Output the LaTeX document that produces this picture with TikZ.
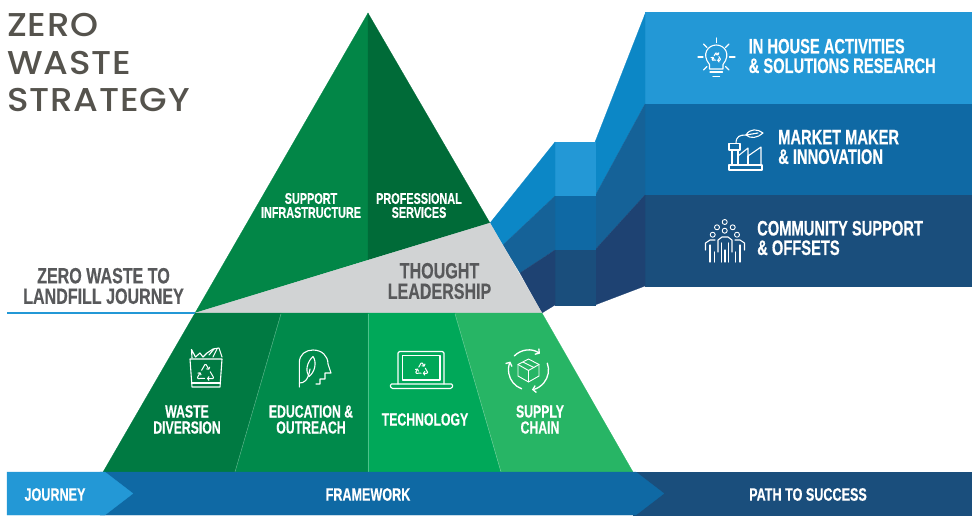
\documentclass[tikz,border=0pt]{standalone}
\usepackage{fontspec}
\usetikzlibrary{arrows.meta}
\setmainfont{Liberation Sans}
\newfontfamily\labelfont[FakeStretch=0.70,FakeBold=0.4]{Liberation Sans Bold}
\newfontfamily\greyfont[FakeStretch=0.73,FakeBold=0.4]{Liberation Sans Bold}
\newfontfamily\titlefont[LetterSpace=2.5,FakeStretch=1.08]{Poppins Medium}
\definecolor{bluelight}{HTML}{2398D6}
\definecolor{bluemid}{HTML}{0F69A4}
\definecolor{bluedark}{HTML}{1A4E7C}
\definecolor{facetlight}{HTML}{0C87C6}
\definecolor{facetmid}{HTML}{156298}
\definecolor{facetdark}{HTML}{1E4272}
\definecolor{gtop}{HTML}{028647}
\definecolor{gtopdark}{HTML}{006B38}
\definecolor{gone}{HTML}{007A42}
\definecolor{gtwo}{HTML}{008A4B}
\definecolor{gthree}{HTML}{00A859}
\definecolor{gfour}{HTML}{27B565}
\definecolor{greyband}{HTML}{D1D3D4}
\definecolor{greytext}{HTML}{58595B}
\definecolor{titlegrey}{HTML}{55534D}
\tikzset{
 face/.style={fill=#1,draw=#1,line width=.2pt},
 divider/.style={draw=white,draw opacity=.3,line width=.5pt},
 icon/.style={draw=white,line width=1.1pt,line cap=round,line join=round},
 iconarrow/.style={icon,line width=1.3pt,-{Straight Barb[length=3pt,width=7pt]}},
 recycline/.style={icon,line width=1pt,rounded corners=1.2pt,-{Straight Barb[length=1.5pt,width=4pt]}},
 lab/.style={inner sep=0pt,align=center,text=white},
 labS/.style={lab,font=\labelfont\fontsize{15.5}{14}\selectfont},
 labM/.style={lab,font=\labelfont\fontsize{17.5}{16}\selectfont},
 labBar/.style={lab,font=\labelfont\fontsize{18}{16}\selectfont},
 labB/.style={lab,font=\labelfont\fontsize{21}{19.5}\selectfont},
 labL/.style={labB,align=left,anchor=west},
 labG/.style={lab,text=greytext,font=\greyfont\fontsize{22}{20.5}\selectfont},
 titleline/.style={inner sep=0pt,anchor=base west,text=titlegrey,font=\titlefont\fontsize{33}{33}\selectfont},
}
\newcommand{\recyc}[3]{%
 \foreach \ang in {0,120,240}{%
  \draw[recycline,shift={(#1,#2)},rotate=\ang]
   (-.39*#3,-.32*#3) -- (0,-#3) -- (.36*#3,-.38*#3);
 }}
\begin{document}
\begin{tikzpicture}[x=1pt,y=-1pt]
\useasboundingbox (0,0) rectangle (972,515);
% right panels
\fill[face=bluelight] (645,12) rectangle (972,104);
\fill[face=bluemid] (645,104) rectangle (972,195);
\fill[face=bluedark] (645,195) rectangle (972,286);
% facets
\fill[face=facetlight] (595,142)--(645,14)--(645,104)--(595,196)--cycle;
\fill[face=facetmid] (595,196)--(645,104)--(645,195)--(595,250)--cycle;
\fill[face=facetdark] (595,250)--(645,195)--(645,286)--(595,305)--cycle;
\fill[face=bluelight] (555,142) rectangle (595,196);
\fill[face=bluemid] (555,196) rectangle (595,250);
\fill[face=bluedark] (555,250) rectangle (595,305);
\fill[face=facetlight] (490,223)--(555,142)--(555,196)--(503,245)--cycle;
\fill[face=facetmid] (503,245)--(555,196)--(555,250)--(520,273)--cycle;
\fill[face=facetdark] (520,273)--(555,250)--(555,305)--(542,313)--cycle;
% upper pyramid
\fill[face=gtop] (368,13)--(195,313)--(368,260)--cycle;
\fill[face=gtopdark] (368,13)--(368,260)--(490,223)--cycle;
\fill[face=greyband] (195,313)--(490,223)--(542,313)--cycle;
% lower pyramid
\fill[face=gone] (195,313)--(281,313)--(235,472)--(103,472)--cycle;
\fill[face=gtwo] (281,313)--(368,313)--(368,472)--(235,472)--cycle;
\fill[face=gthree] (368,313)--(455,313)--(501,472)--(368,472)--cycle;
\fill[face=gfour] (455,313)--(542,313)--(633,472)--(501,472)--cycle;
\draw[divider] (281,314)--(235,472);
\draw[divider] (368,314)--(368,472);
\draw[divider] (455,314)--(501,472);
% journey line
\draw[draw=bluelight,line width=2.5pt] (7,313)--(195,313);
% bottom bar
\fill[face=bluedark] (633,472) rectangle (972,515);
\fill[face=bluemid] (100,472)--(636,472)--(664,493.5)--(636,515)--(100,515)--cycle;
\fill[face=bluelight] (7,472)--(105,472)--(133,493.5)--(105,515)--(7,515)--cycle;
% title
\node[titleline] (t1) at (7,36) {ZERO};
\node[titleline] (t2) at (7,74) {WASTE};
\node[titleline] (t3) at (7,111) {STRATEGY};
% labels
\node[labG] (zw) at (103.5,286) {ZERO WASTE TO\\LANDFILL JOURNEY};
\node[labS] (si) at (311,205.5) {SUPPORT\\INFRASTRUCTURE};
\node[labS] (ps) at (419,205.5) {PROFESSIONAL\\SERVICES};
\node[labG] (tl) at (439.5,281) {THOUGHT\\LEADERSHIP};
\node[labM] (wd) at (187,419.5) {WASTE\\DIVERSION};
\node[labM] (eo) at (311,419.5) {EDUCATION \&\\OUTREACH};
\node[labM] (te) at (425,419.5) {TECHNOLOGY};
\node[labM] (sc) at (540,419.5) {SUPPLY\\CHAIN};
\node[labBar] (ba) at (55,494.5) {JOURNEY};
\node[labBar] (bb) at (368,494.5) {FRAMEWORK};
\node[labBar] (bc) at (808,494.5) {PATH TO SUCCESS};
\node[labL] (pa) at (748.5,56) {IN HOUSE ACTIVITIES\\\& SOLUTIONS RESEARCH};
\node[labL] (pb) at (778,147) {MARKET MAKER\\\& INNOVATION};
\node[labL] (pc) at (757,238) {COMMUNITY SUPPORT\\\& OFFSETS};
% bulb icon
\draw[icon] (709.5,64.5) .. controls (701,54) and (708,45) .. (716.3,45)
  .. controls (724.5,45) and (731.5,54) .. (723,64.5) -- (723,69) -- (709.5,69) -- cycle;
\draw[icon] (710,72)--(722.5,72);
\draw[icon] (713,76.5)--(719.5,76.5);
\draw[icon] (716.3,38)--(716.3,42.5);
\draw[icon] (698,57)--(703,57);
\draw[icon] (729.5,57)--(735,57);
\draw[icon] (703.5,44)--(707,47.5);
\draw[icon] (729,44)--(725.5,47.5);
\draw[icon] (703.5,70)--(707,66.5);
\draw[icon] (729,70)--(725.5,66.5);
\recyc{716.3}{57.5}{5.5}
% factory icon
\draw[icon] (729,165) rectangle (762,170);
\draw[icon] (729,143.5) -- (729,150) -- (740,150) -- (740,143.5) -- cycle;
\draw[icon] (732,150)--(732,165);
\draw[icon] (738,150)--(738,165);
\draw[icon] (738,156)--(748,148)--(748,156)--(761,147)--(761,165);
\draw[icon] (748,156)--(748,165);
\draw[icon] (736,143.5) .. controls (736,136) and (740,135) .. (746,135);
\draw[icon] (746,135) .. controls (750,128) and (758,129) .. (763,133)
  .. controls (758,138) and (750,139) .. (746,135) -- (758,133);
% people icon
\foreach \hx/\hy in {724.7/230.7,724.7/222,717/227.3,732.7/227.3,712.7/234.7,737/234.7}
  {\draw[icon,line width=.9pt] (\hx,\hy) circle (2.5);}
\draw[icon] (718,252)--(718,240)--(722,237)--(728,237)--(732,240)--(732,252);
\draw[icon] (721.5,262)--(721.5,243);
\draw[icon] (728.5,262)--(728.5,243);
\draw[icon] (725,262)--(725,250);
\draw[icon] (705.5,250)--(705.5,243)--(710,240)--(715,240);
\draw[icon] (710,262)--(710,245);
\draw[icon] (714.5,262)--(714.5,252);
\draw[icon] (744.5,250)--(744.5,243)--(740,240)--(735,240);
\draw[icon] (740,262)--(740,245);
\draw[icon] (735.5,262)--(735.5,252);
% bin icon
\draw[icon] (190,359)--(222,359)--(220,387)--(192,387)--cycle;
\draw[icon] (191.5,383)--(220.5,383);
\draw[icon] (192,358)--(191.5,349.5)--(195.5,357)--(200,353)--(203,357)--(207,353)--(213,349)--(219,348)--(222,357);
\draw[icon] (209,355)--(214,349);
\draw[icon] (213,357)--(217,349);
\recyc{205.5}{373.5}{10}
% head icon
\draw[icon] (299.3,387)--(299.3,363) .. controls (299.3,354) and (306,350) .. (313,350)
  .. controls (322,350) and (328,356) .. (328,364) -- (331,373) -- (325,373) -- (325,379)
  -- (320,379) -- (320,384) -- (316,384);
\draw[icon] (313,356.5) .. controls (307,362) and (305,371) .. (309,376.5)
  .. controls (315,372) and (317,362) .. (313,356.5);
\draw[icon] (299.3,383) .. controls (304,383) and (308,381) .. (310,369);
% laptop icon
\draw[icon,rounded corners=1.5pt] (398,384)--(398,351.5)--(444,351.5)--(444,384);
\draw[icon] (402.7,355.5) rectangle (440,380);
\draw[icon,rounded corners=1.5pt] (390,384)--(453,384)--(452,388.5)--(391,388.5)--cycle;
\recyc{421.7}{369.5}{7.5}
% supply chain icon
\draw[iconarrow] (528.5,370) ++(225:20) arc[start angle=225,end angle=305,radius=20];
\draw[iconarrow] (528.5,370) ++(340:20) arc[start angle=340,end angle=440,radius=20];
\draw[iconarrow] (528.5,370) ++(110:20) arc[start angle=110,end angle=205,radius=20];
\draw[icon,line width=.9pt] (528.5,359)--(539,364.5)--(539,376)--(528.5,382)--(518,376)--(518,364.5)--cycle;
\draw[icon,line width=.9pt] (518,364.5)--(528.5,370.5)--(539,364.5);
\draw[icon,line width=.9pt] (528.5,370.5)--(528.5,382);
\draw[icon,line width=.9pt] (523,362)--(534,367.5);
\end{tikzpicture}
\end{document}
